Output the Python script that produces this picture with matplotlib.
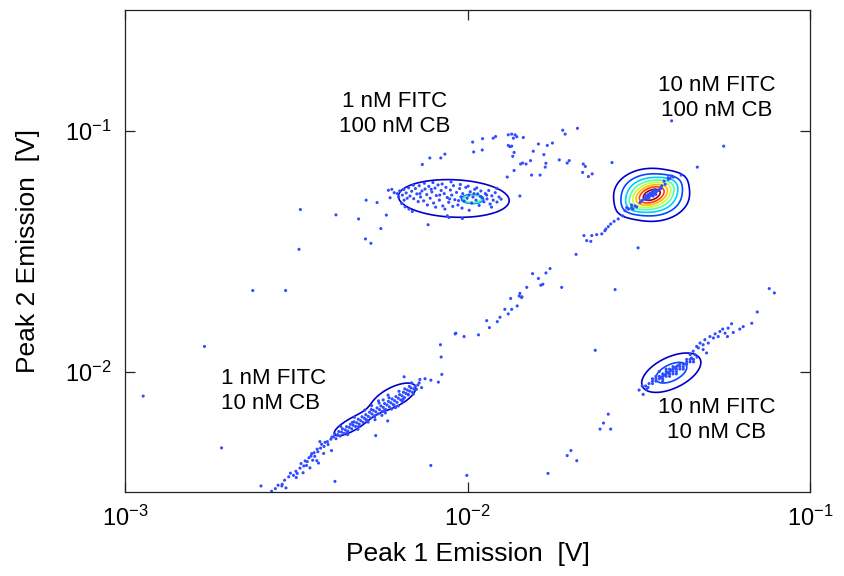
import numpy as np
import matplotlib

matplotlib.use("Agg")
import matplotlib.pyplot as plt
from matplotlib.ticker import LogLocator, NullLocator

# ---- data (log10 of emission in V) ----
# sparse events between / around the four populations
sparse_points = [
    (-1.985, -1.048), (-1.982, -1.089), (-2.110, -1.114), (-2.078, -1.114), (-2.066, -1.098),
    (-2.132, -1.141), (-2.296, -1.289), (-2.264, -1.299), (-2.488, -1.328), (-2.384, -1.350),
    (-2.318, -1.367), (-2.237, -1.351), (-2.253, -1.407), (-2.298, -1.450), (-2.282, -1.468),
    (-2.492, -1.493), (-2.115, -1.391), (-2.054, -1.361), (-2.015, -1.365), (-2.627, -1.664),
    (-2.531, -1.664), (-2.768, -1.896), (-2.947, -2.102), (-2.718, -2.317), (-2.036, -1.844),
    (-2.010, -1.855), (-2.079, -1.889), (-2.077, -1.940), (-2.075, -2.012), (-2.085, -2.044),
    (-2.107, -2.036), (-2.124, -2.030), (-2.139, -2.033), (-2.185, -2.022), (-2.233, -2.205),
    (-2.268, -2.266), (-2.107, -2.390), (-2.002, -2.431), (-2.387, -2.456), (-2.603, -2.475),
    (-2.542, -2.475), (-2.530, -2.483),
    (-1.956, -1.034), (-1.957, -1.081), (-1.925, -1.032), (-1.918, -1.025), (-1.881, -1.018),
    (-1.871, -1.015), (-1.861, -1.018), (-1.856, -1.026), (-1.866, -1.032), (-1.837, -1.029),
    (-1.881, -1.062), (-1.876, -1.067), (-1.871, -1.065), (-1.864, -1.091), (-1.868, -1.107),
    (-1.793, -1.056), (-1.767, -1.062), (-1.752, -1.052), (-1.722, -0.999), (-1.715, -1.015),
    (-1.679, -0.991), (-1.808, -1.086), (-1.777, -1.100), (-1.816, -1.125), (-1.845, -1.139),
    (-1.839, -1.135), (-1.829, -1.139), (-1.771, -1.136), (-1.773, -1.152), (-1.732, -1.122),
    (-1.703, -1.125), (-1.709, -1.135), (-1.662, -1.139), (-1.656, -1.149), (-1.864, -1.166),
    (-1.884, -1.193), (-1.813, -1.185), (-1.788, -1.185), (-1.664, -1.174), (-1.647, -1.191),
    (-1.636, -1.180), (-1.578, -1.133), (-1.847, -1.272), (-1.404, -0.960), (-1.265, -0.925),
    (-1.252, -1.065), (-1.329, -1.152), (-1.376, -1.185),
    (-1.535, -1.320), (-1.540, -1.333), (-1.547, -1.354), (-1.560, -1.367), (-1.572, -1.377),
    (-1.582, -1.388), (-1.589, -1.399), (-1.596, -1.409), (-1.599, -1.416), (-1.608, -1.429),
    (-1.623, -1.432), (-1.637, -1.436), (-1.660, -1.436), (-1.652, -1.457), (-1.640, -1.460),
    (-1.683, -1.514), (-1.502, -1.487), (-1.725, -1.651), (-1.569, -1.660), (-1.759, -1.573),
    (-1.771, -1.591), (-1.810, -1.594), (-1.793, -1.614), (-1.786, -1.642), (-1.780, -1.638),
    (-1.827, -1.651), (-1.847, -1.676), (-1.841, -1.690), (-1.874, -1.697), (-1.119, -1.656),
    (-1.104, -1.674), (-1.506, -1.317), (-1.517, -1.326), (-1.521, -1.309), (-1.426, -1.210),
    (-1.414, -1.203), (-1.409, -1.199), (-1.399, -1.193),
    (-2.034, -1.841), (-1.968, -1.848), (-1.944, -1.789), (-1.936, -1.818), (-1.913, -1.793),
    (-1.905, -1.775), (-1.891, -1.742), (-1.881, -1.761), (-1.871, -1.742), (-1.855, -1.728),
    (-1.849, -1.687), (-1.842, -1.693), (-1.627, -1.912), (-1.589, -2.177), (-1.603, -2.214),
    (-1.613, -2.239), (-1.582, -2.239), (-1.698, -2.328), (-1.709, -2.349), (-1.681, -2.370),
    (-1.765, -2.423), (-1.154, -1.753),
    (-1.530, -1.326), (-1.521, -1.320), (-1.511, -1.313), (-1.496, -1.299), (-1.414, -1.196),
    (-1.404, -1.189), (-1.423, -1.223), (-1.433, -1.230),
]

# 1 nM FITC / 10 nM CB
pop_1fitc_10cb = [
    (-2.572, -2.497), (-2.561, -2.486), (-2.553, -2.472), (-2.541, -2.468), (-2.534, -2.451),
    (-2.522, -2.437), (-2.517, -2.422), (-2.508, -2.431), (-2.501, -2.414), (-2.497, -2.423),
    (-2.489, -2.401), (-2.486, -2.382), (-2.478, -2.392), (-2.474, -2.371), (-2.468, -2.374),
    (-2.463, -2.358), (-2.457, -2.351), (-2.455, -2.341), (-2.448, -2.337), (-2.446, -2.352),
    (-2.439, -2.322), (-2.437, -2.333), (-2.429, -2.318), (-2.426, -2.302), (-2.419, -2.311),
    (-2.416, -2.294), (-2.409, -2.291), (-2.407, -2.303), (-2.399, -2.281), (-2.396, -2.272),
    (-2.440, -2.370), (-2.435, -2.380), (-2.460, -2.400), (-2.480, -2.420), (-2.420, -2.340),
    (-2.397, -2.328), (-2.500, -2.440), (-2.470, -2.390), (-2.452, -2.368), (-2.431, -2.291),
    (-2.391, -2.271), (-2.388, -2.258), (-2.384, -2.279), (-2.379, -2.262), (-2.376, -2.249),
    (-2.372, -2.268), (-2.368, -2.251), (-2.365, -2.238), (-2.361, -2.257), (-2.357, -2.242),
    (-2.353, -2.229), (-2.349, -2.247), (-2.345, -2.232), (-2.342, -2.219), (-2.338, -2.238),
    (-2.334, -2.223), (-2.331, -2.209), (-2.327, -2.228), (-2.323, -2.213), (-2.319, -2.198),
    (-2.316, -2.219), (-2.312, -2.204), (-2.308, -2.188), (-2.305, -2.211), (-2.301, -2.194),
    (-2.297, -2.179), (-2.294, -2.201), (-2.290, -2.186), (-2.286, -2.169), (-2.283, -2.193),
    (-2.279, -2.176), (-2.275, -2.161), (-2.272, -2.184), (-2.268, -2.167), (-2.264, -2.151),
    (-2.261, -2.176), (-2.257, -2.158), (-2.253, -2.143), (-2.250, -2.166), (-2.246, -2.149),
    (-2.242, -2.133), (-2.239, -2.157), (-2.235, -2.139), (-2.231, -2.124), (-2.228, -2.147),
    (-2.224, -2.130), (-2.220, -2.114), (-2.217, -2.137), (-2.213, -2.121), (-2.209, -2.104),
    (-2.206, -2.128), (-2.202, -2.111), (-2.198, -2.096), (-2.195, -2.118), (-2.191, -2.101),
    (-2.187, -2.086), (-2.184, -2.108), (-2.180, -2.091), (-2.176, -2.077), (-2.173, -2.097),
    (-2.169, -2.081), (-2.165, -2.068), (-2.161, -2.086), (-2.157, -2.072), (-2.153, -2.060),
    (-2.149, -2.074), (-2.145, -2.056), (-2.141, -2.047), (-2.163, -2.047), (-2.134, -2.067),
    (-2.188, -2.115), (-2.202, -2.143), (-2.173, -2.095), (-2.296, -2.201), (-2.271, -2.188),
    (-2.243, -2.162), (-2.214, -2.141), (-2.318, -2.229), (-2.281, -2.158), (-2.258, -2.131),
    (-2.229, -2.109), (-2.352, -2.252), (-2.336, -2.211),
    (-2.300, -2.160), (-2.290, -2.210), (-2.270, -2.200), (-2.260, -2.122), (-2.240, -2.172),
    (-2.232, -2.098), (-2.210, -2.150), (-2.200, -2.082), (-2.330, -2.190), (-2.350, -2.262),
    (-2.370, -2.228), (-2.250, -2.182), (-2.190, -2.124), (-2.170, -2.062), (-2.280, -2.142),
    (-2.320, -2.240), (-2.222, -2.156), (-2.183, -2.072), (-2.158, -2.094), (-2.246, -2.118),
]

# 1 nM FITC / 100 nM CB
pop_1fitc_100cb = [
    (-2.231, -1.248), (-2.221, -1.244), (-2.214, -1.258), (-2.226, -1.279), (-2.192, -1.303),
    (-2.182, -1.317), (-2.171, -1.326), (-2.161, -1.336), (-2.205, -1.262), (-2.198, -1.251),
    (-2.190, -1.268), (-2.186, -1.245), (-2.179, -1.259), (-2.172, -1.238), (-2.168, -1.272),
    (-2.163, -1.252), (-2.157, -1.283), (-2.152, -1.241), (-2.148, -1.263), (-2.141, -1.229),
    (-2.137, -1.276), (-2.133, -1.251), (-2.128, -1.292), (-2.124, -1.243), (-2.119, -1.266),
    (-2.113, -1.232), (-2.109, -1.281), (-2.104, -1.255), (-2.099, -1.301), (-2.095, -1.239),
    (-2.091, -1.270), (-2.086, -1.226), (-2.082, -1.289), (-2.077, -1.249), (-2.072, -1.313),
    (-2.068, -1.262), (-2.063, -1.236), (-2.059, -1.278), (-2.055, -1.298), (-2.050, -1.247),
    (-2.046, -1.268), (-2.041, -1.229), (-2.037, -1.287), (-2.032, -1.257), (-2.028, -1.309),
    (-2.023, -1.241), (-2.019, -1.275), (-2.014, -1.262), (-2.010, -1.293), (-2.005, -1.236),
    (-2.001, -1.281), (-1.996, -1.268), (-1.992, -1.254), (-1.988, -1.301), (-1.984, -1.276),
    (-1.979, -1.244), (-1.975, -1.289), (-1.970, -1.263), (-1.966, -1.311), (-1.961, -1.251),
    (-1.957, -1.279), (-1.952, -1.296), (-1.948, -1.262), (-1.943, -1.284), (-1.938, -1.249),
    (-1.934, -1.305), (-1.929, -1.271), (-1.925, -1.289), (-1.919, -1.258), (-1.914, -1.297),
    (-1.908, -1.276), (-1.902, -1.285), (-2.176, -1.281), (-2.144, -1.295), (-2.117, -1.309),
    (-2.093, -1.318), (-2.066, -1.326), (-2.043, -1.315), (-2.016, -1.322), (-1.995, -1.331),
    (-2.158, -1.227), (-2.126, -1.219), (-2.101, -1.216), (-2.074, -1.222), (-2.048, -1.213),
    (-2.021, -1.224), (-1.998, -1.231), (-1.973, -1.238), (-2.201, -1.276), (-2.185, -1.289),
    (-2.139, -1.262), (-2.106, -1.244), (-2.081, -1.268), (-2.052, -1.284), (-2.026, -1.291),
    (-1.981, -1.262), (-1.962, -1.274), (-1.944, -1.268), (-2.059, -1.354), (-1.930, -1.318),
    (-1.915, -1.240),
]

# 10 nM FITC / 100 nM CB
pop_10fitc_100cb = [
    (-1.480, -1.280), (-1.475, -1.275), (-1.470, -1.270), (-1.470, -1.280), (-1.465, -1.270),
    (-1.465, -1.260), (-1.460, -1.265), (-1.460, -1.255), (-1.455, -1.260), (-1.455, -1.250),
    (-1.450, -1.255), (-1.450, -1.265), (-1.445, -1.250), (-1.480, -1.270), (-1.475, -1.285),
    (-1.468, -1.262), (-1.458, -1.272), (-1.452, -1.245), (-1.440, -1.245), (-1.485, -1.285),
    (-1.462, -1.268), (-1.472, -1.266), (-1.456, -1.258), (-1.490, -1.290), (-1.435, -1.240),
]

# 10 nM FITC / 10 nM CB
pop_10fitc_10cb = [
    (-1.470, -2.050), (-1.460, -2.040), (-1.460, -2.050), (-1.450, -2.030), (-1.450, -2.040),
    (-1.440, -2.030), (-1.440, -2.020), (-1.430, -2.020), (-1.430, -2.030), (-1.430, -2.010),
    (-1.420, -2.020), (-1.420, -2.010), (-1.420, -2.000), (-1.410, -2.010), (-1.410, -2.000),
    (-1.410, -1.990), (-1.400, -2.000), (-1.400, -1.990), (-1.400, -2.010), (-1.390, -1.990),
    (-1.390, -1.980), (-1.390, -2.000), (-1.380, -1.980), (-1.380, -1.970), (-1.380, -1.990),
    (-1.370, -1.970), (-1.370, -1.980), (-1.360, -1.960), (-1.360, -1.970), (-1.350, -1.960),
    (-1.350, -1.950), (-1.340, -1.950), (-1.440, -2.000), (-1.420, -1.990), (-1.400, -1.980),
    (-1.370, -1.990), (-1.450, -2.020), (-1.430, -2.040), (-1.410, -2.020), (-1.390, -2.010),
    (-1.460, -2.030), (-1.480, -2.060), (-1.490, -2.060), (-1.330, -1.940), (-1.340, -1.960),
    (-1.360, -1.950), (-1.415, -2.005), (-1.405, -1.995), (-1.395, -1.985), (-1.425, -2.015),
    (-1.385, -1.975), (-1.435, -2.025),
    (-1.499, -2.077), (-1.487, -2.095), (-1.477, -2.074), (-1.473, -2.066),
    (-1.170, -1.800), (-1.195, -1.814), (-1.205, -1.824), (-1.229, -1.802), (-1.224, -1.838),
    (-1.241, -1.855), (-1.255, -1.824), (-1.263, -1.834), (-1.277, -1.844), (-1.292, -1.855),
    (-1.307, -1.868), (-1.321, -1.882), (-1.331, -1.896), (-1.302, -1.923), (-1.312, -1.909),
    (-1.341, -1.916), (-1.350, -1.930), (-1.239, -1.820), (-1.248, -1.841), (-1.268, -1.855),
    (-1.282, -1.861), (-1.297, -1.882), (-1.312, -1.889), (-1.326, -1.902), (-1.336, -1.930),
    (-1.346, -1.944),
]

# density model for the contours (log10 centres, log10 widths, tilt in degrees,
# peak height, profile exponent: 2 = gaussian, larger = flatter top)
comp_peak1 = [-2.215, -2.350, -2.040, -1.985, -1.462, -1.462, -1.405]
comp_peak2 = [-2.105, -2.232, -1.282, -1.284, -1.267, -1.267, -2.005]
comp_sd_major = [0.090, 0.055, 0.167, 0.028, 0.058, 0.060, 0.075]
comp_sd_minor = [0.042, 0.022, 0.080, 0.016, 0.058, 0.025, 0.042]
comp_angle = [40, 40, -4, 0, 0, 40, 42]
comp_weight = [1.45, 1.40, 1.60, 3.20, 6.00, 3.00, 2.60]
comp_power = [2, 2, 2, 10, 2, 2, 2]
contour_levels = [1, 2, 3, 4, 5, 6, 7, 8]

labels = [
    ("1 nM FITC\n100 nM CB", -2.212, -0.930, "center"),
    ("10 nM FITC\n100 nM CB", -1.272, -0.864, "center"),
    ("1 nM FITC\n10 nM CB", -2.720, -2.080, "left"),
    ("10 nM FITC\n10 nM CB", -1.272, -2.202, "center"),
]

plt.rcParams["font.family"] = ["Liberation Sans", "DejaVu Sans"]
plt.rcParams["mathtext.fontset"] = "custom"
plt.rcParams["mathtext.rm"] = "Liberation Sans"
plt.rcParams["mathtext.it"] = "Liberation Sans:italic"
plt.rcParams["mathtext.bf"] = "Liberation Sans:bold"

fig = plt.figure(figsize=(8.44, 5.76), dpi=100)
ax = fig.add_axes([125 / 844, 84 / 576, 685 / 844, 482 / 576])

# contour surface on a log grid
gx = np.linspace(-3, -1, 500)
gy = np.linspace(-2.5, -0.5, 500)
LX, LY = np.meshgrid(gx, gy)
Z = np.zeros_like(LX)
for cx, cy, sa, sb, ang, w, p in zip(comp_peak1, comp_peak2, comp_sd_major, comp_sd_minor,
                                     comp_angle, comp_weight, comp_power):
    t = np.deg2rad(ang)
    dx, dy = LX - cx, LY - cy
    u = dx * np.cos(t) + dy * np.sin(t)
    v = -dx * np.sin(t) + dy * np.cos(t)
    q = (u / sa) ** 2 + (v / sb) ** 2
    Z += w * np.exp(-0.5 * q ** (p / 2))

level_colors = plt.get_cmap("jet")(np.linspace(0.07, 0.97, len(contour_levels)))
ax.contour(10 ** LX, 10 ** LY, Z, levels=contour_levels, colors=level_colors, linewidths=1.2, zorder=2)

all_pts = np.array(sparse_points + pop_1fitc_10cb + pop_1fitc_100cb + pop_10fitc_100cb + pop_10fitc_10cb)
ax.scatter(10 ** all_pts[:, 0], 10 ** all_pts[:, 1], s=5, color="#2f4cff", edgecolors="none", zorder=3)

for txt, lx, ly, ha in labels:
    ax.text(10 ** lx, 10 ** ly, txt, ha=ha, va="center", multialignment=ha, fontsize=16, linespacing=1.25)

ax.set_xscale("log")
ax.set_yscale("log")
ax.set_xlim(1e-3, 1e-1)
ax.set_ylim(10 ** -2.5, 10 ** -0.5)
ax.xaxis.set_major_locator(LogLocator(base=10, numticks=5))
ax.yaxis.set_major_locator(LogLocator(base=10, numticks=5))
ax.xaxis.set_minor_locator(NullLocator())
ax.yaxis.set_minor_locator(NullLocator())
ax.tick_params(which="major", direction="in", length=7, width=0.9, top=True, right=True,
               labelsize=17, pad=10, color="#222222")
for sp in ax.spines.values():
    sp.set_color("#222222")
    sp.set_linewidth(0.9)

ax.set_xlabel("Peak 1 Emission  [V]", fontsize=19, labelpad=8)
ax.set_ylabel("Peak 2 Emission  [V]", fontsize=19, labelpad=18)

fig.savefig("out.png", dpi=100)
